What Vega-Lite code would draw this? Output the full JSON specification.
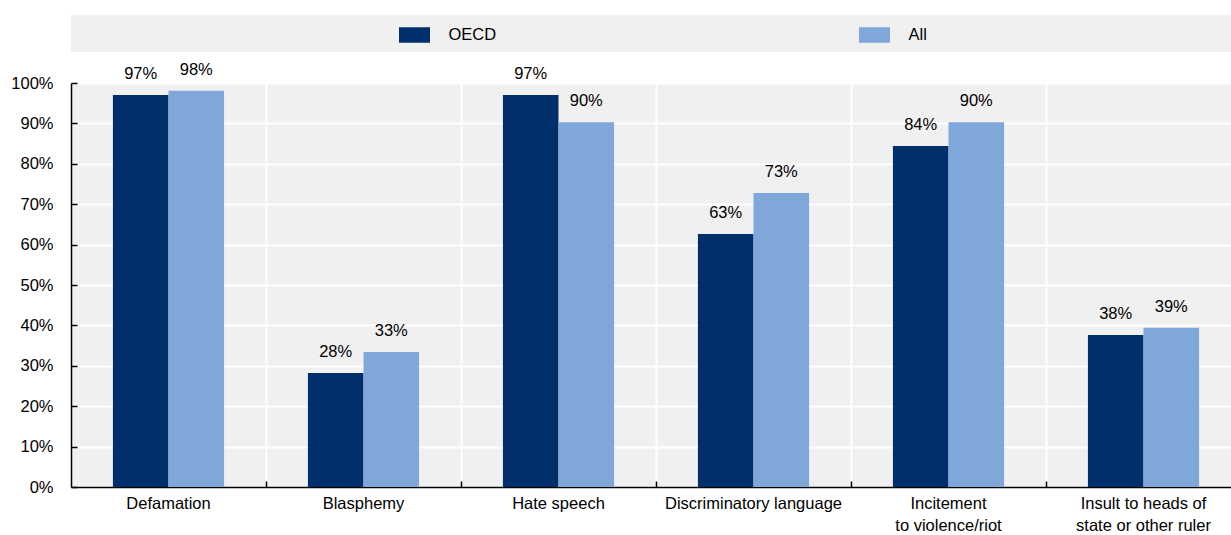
{
  "$schema": "https://vega.github.io/schema/vega-lite/v6.json",
  "padding": {"left": 10, "top": 15, "right": 0, "bottom": 0},
  "background": "white",
  "config": {"font": "Liberation Sans", "view": {"stroke": null}},
  "spacing": 31,
  "bounds": "flush",
  "vconcat": [
    {
      "width": 1170,
      "height": 37,
      "view": {"fill": "#f0f0f0", "stroke": null},
      "data": {"values": [{"series": "OECD"}, {"series": "All"}]},
      "encoding": {
        "x": {"field": "series", "type": "nominal", "scale": {"type": "point", "domain": ["OECD", "All"], "padding": 0.7717}, "axis": null}
      },
      "layer": [
        {
          "mark": {"type": "point", "shape": "M-1,-0.5H1V0.5H-1Z", "size": 961, "filled": true, "opacity": 1, "xOffset": -11.5, "yOffset": 1.5},
          "encoding": {
            "color": {"field": "series", "type": "nominal", "scale": {"domain": ["OECD", "All"], "range": ["#002F6C", "#7FA7D9"]}, "legend": null}
          }
        },
        {
          "mark": {"type": "text", "align": "left", "baseline": "middle", "dx": 34, "xOffset": -11.5, "yOffset": 1.5, "fontSize": 16.5, "color": "#000"},
          "encoding": {"text": {"field": "series"}}
        }
      ]
    },
    {
      "width": 1170,
      "height": 404,
      "view": {"fill": "#f0f0f0", "stroke": null},
      "data": {
        "values": [
          {"category": "Defamation", "series": "OECD", "value": 0.97},
          {"category": "Defamation", "series": "All", "value": 0.981},
          {"category": "Blasphemy", "series": "OECD", "value": 0.282},
          {"category": "Blasphemy", "series": "All", "value": 0.334},
          {"category": "Hate speech", "series": "OECD", "value": 0.97},
          {"category": "Hate speech", "series": "All", "value": 0.903},
          {"category": "Discriminatory language", "series": "OECD", "value": 0.626},
          {"category": "Discriminatory language", "series": "All", "value": 0.728},
          {"category": "Incitement to violence/riot", "series": "OECD", "value": 0.844},
          {"category": "Incitement to violence/riot", "series": "All", "value": 0.903},
          {"category": "Insult to heads of state or other ruler", "series": "OECD", "value": 0.376},
          {"category": "Insult to heads of state or other ruler", "series": "All", "value": 0.394}
        ]
      },
      "encoding": {
        "x": {
          "field": "category", "type": "nominal", "sort": null,
          "scale": {"paddingInner": 0.43, "paddingOuter": 0.215},
          "axis": {
            "title": null, "labelAngle": 0, "bandPosition": 1.3784,
            "grid": true, "gridColor": "white", "gridWidth": 2,
            "domainColor": "#000", "domainWidth": 1.5,
            "tickColor": "#000", "tickWidth": 1.5, "tickSize": -6,
            "labelFontSize": 16.5, "labelColor": "#000", "labelPadding": 14, "labelLineHeight": 22, "labelLimit": 300,
            "labelExpr": "datum.label == 'Incitement to violence/riot' ? ['Incitement', 'to violence/riot'] : datum.label == 'Insult to heads of state or other ruler' ? ['Insult to heads of', 'state or other ruler'] : datum.label"
          }
        },
        "xOffset": {"field": "series", "type": "nominal", "sort": ["OECD", "All"], "scale": {"paddingInner": 0, "paddingOuter": 0}},
        "y": {
          "field": "value", "type": "quantitative",
          "scale": {"domain": [0, 1]},
          "axis": {
            "title": null, "format": ".0%", "values": [0, 0.1, 0.2, 0.3, 0.4, 0.5, 0.6, 0.7, 0.8, 0.9, 1],
            "grid": true, "gridColor": "white", "gridWidth": 2,
            "domainColor": "#000", "domainWidth": 1.5,
            "tickColor": "#000", "tickWidth": 1.5, "tickSize": -6,
            "labelFontSize": 16.5, "labelColor": "#000", "labelPadding": 24
          }
        }
      },
      "layer": [
        {
          "mark": {"type": "bar"},
          "encoding": {
            "color": {"field": "series", "type": "nominal", "scale": {"domain": ["OECD", "All"], "range": ["#002F6C", "#7FA7D9"]}, "legend": null}
          }
        },
        {
          "mark": {"type": "text", "baseline": "alphabetic", "dy": -16, "fontSize": 16.5, "color": "#000"},
          "encoding": {"text": {"field": "value", "type": "quantitative", "format": ".0%"}}
        }
      ]
    }
  ]
}
